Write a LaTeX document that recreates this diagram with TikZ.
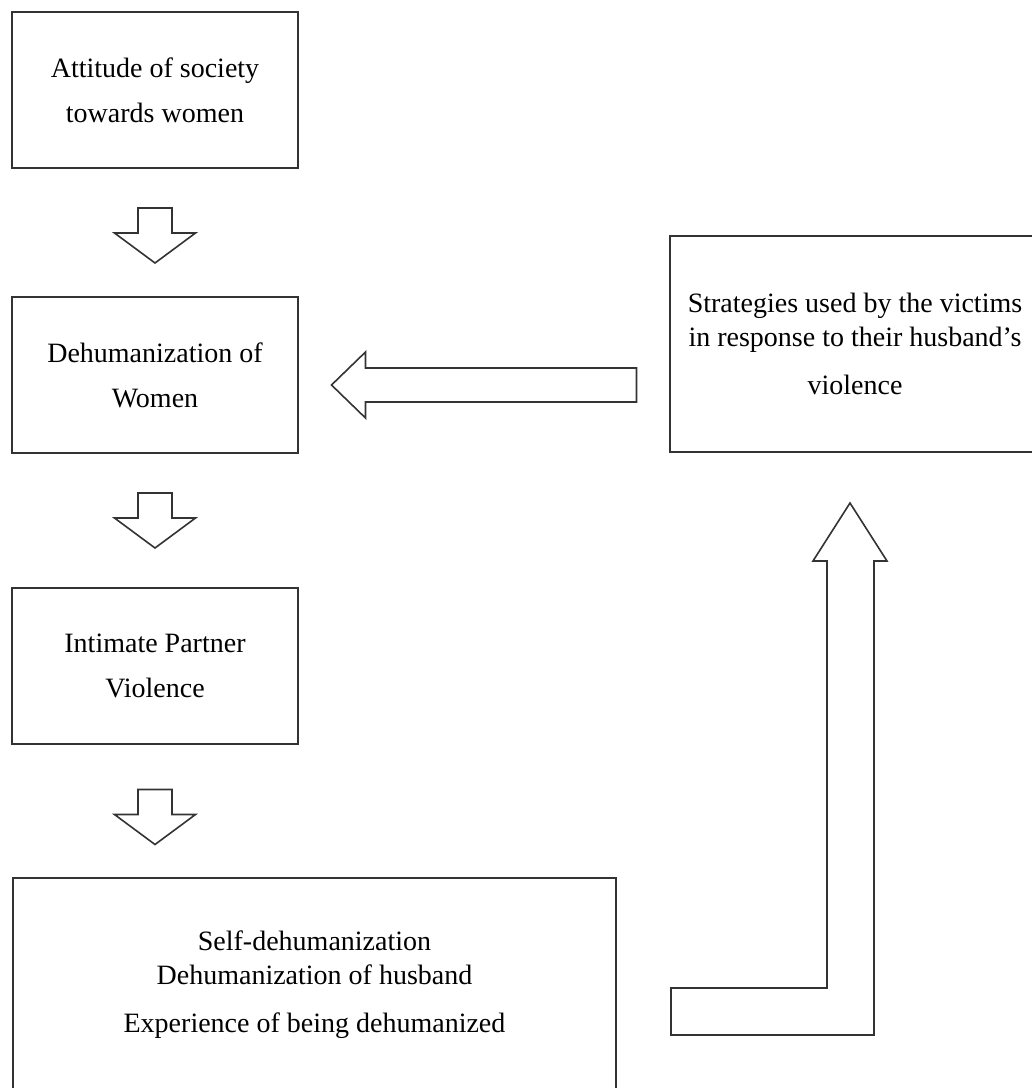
\documentclass[tikz,border=0pt]{standalone}
\usepackage{fontspec}
\setmainfont{Liberation Serif}
\usetikzlibrary{calc}

\tikzset{
	box/.style={draw=black!80, line width=1.6pt, align=center, inner sep=0pt,
		font=\fontsize{28}{34}\selectfont},
	blockline/.style={draw=black!80, line width=1.6pt, line join=miter, fill=white},
	down arrow/.pic={
		\draw[blockline] (-17,-27.5) -- (17,-27.5) -- (17,-2.5) -- (40.5,-2.5)
			-- (0,27.5) -- (-40.5,-2.5) -- (-17,-2.5) -- cycle;
	},
	left arrow/.pic={
		\draw[blockline] (152.5,-17) -- (152.5,17) -- (-118.5,17) -- (-118.5,33)
			-- (-152.5,0) -- (-118.5,-33) -- (-118.5,-17) -- cycle;
	},
}

\begin{document}
\begin{tikzpicture}[x=1pt, y=-1pt]
	
	\clip (0,0) rectangle (1032,1088);
	\fill[white] (0,0) rectangle (1032,1088);
	
	% left column
	\node[box, minimum width=286, minimum height=156] (attitude) at (155,90)
		{Attitude of society\\[11pt]towards women};
	\node[box, minimum width=286, minimum height=156] (dehum) at (155,375)
		{Dehumanization of\\[11pt]Women};
	\node[box, minimum width=286, minimum height=156] (ipv) at (155,666)
		{Intimate Partner\\[11pt]Violence};
	\node[box, minimum width=603, minimum height=214] (selfdehum) at (314.5,985)
		{Self-dehumanization\\Dehumanization of husband\\[14pt]Experience of being dehumanized};
	
	% right box (runs off the edge)
	\node[box, minimum width=370, minimum height=216] (strat) at (855,344)
		{Strategies used by the victims\\in response to their husband's\\[14pt]violence};
	
	% hollow arrows
	\pic at ($(attitude.south)!0.5!(dehum.north)+(0,3)$) {down arrow};
	\pic at ($(dehum.south)!0.5!(ipv.north)$) {down arrow};
	\pic at ($(ipv.south)!0.5!(ipv.south |- selfdehum.north)+(0,6)$) {down arrow};
	\pic at ($(dehum.east)!0.5!(strat.west |- dehum.east)+(0,10)$) {left arrow};
	
	\coordinate (ltip) at (850,503);
	\draw[blockline] (ltip) -- (887,561) -- (874,561) -- (874,1035) -- (671,1035)
		-- (671,988) -- (827,988) -- (827,561) -- (813,561) -- cycle;
	
\end{tikzpicture}
\end{document}
